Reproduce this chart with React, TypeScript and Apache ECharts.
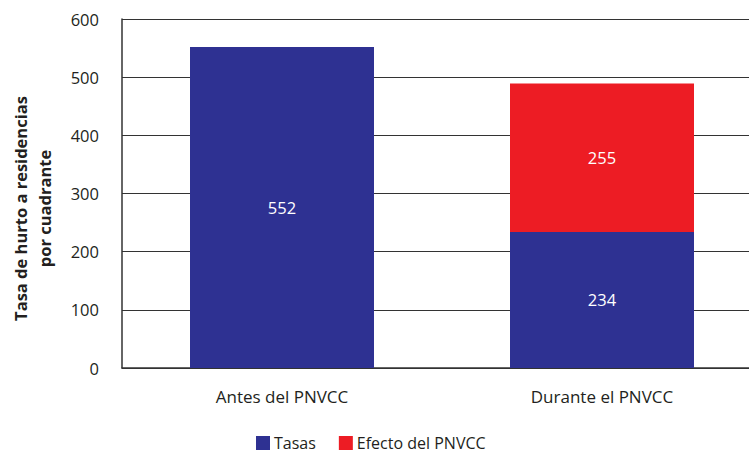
import React, { useEffect, useRef } from "react";
import * as echarts from "echarts";

const categories = ["Antes del PNVCC", "Durante el PNVCC"];
const tasas = [552, 234];
const efecto = [null, 255];
const yTicks = { min: 0, max: 600, interval: 100 };

export default function App() {
  const ref = useRef<HTMLDivElement>(null);
  useEffect(() => {
    const chart = echarts.init(ref.current!, null, { renderer: "svg" });
    const font = "'Open Sans', 'Noto Sans', sans-serif";
    chart.setOption({
      animation: false,
      textStyle: { fontFamily: font },
      grid: { left: 122, width: 640, top: 19, height: 349, outerBoundsMode: "none", containLabel: false },
      legend: {
        data: ["Tasas", "Efecto del PNVCC"],
        left: 251,
        top: 430,
        itemWidth: 14,
        itemHeight: 14,
        itemGap: 23,
        icon: "rect",
        textStyle: { fontSize: 16, lineHeight: 16, color: "#231f20", fontFamily: font, padding: [0, 0, 0, -1] },
      },
      xAxis: {
        type: "category",
        data: categories,
        axisLine: { show: true, lineStyle: { color: "#333", width: 1.5 } },
        axisTick: { show: false },
        axisLabel: { fontSize: 17, color: "#231f20", margin: 20, fontFamily: font },
      },
      yAxis: {
        type: "value",
        min: yTicks.min,
        max: yTicks.max,
        interval: yTicks.interval,
        name: "Tasa de hurto a residencias\npor cuadrante",
        nameLocation: "middle",
        nameGap: 66,
        nameTextStyle: {
          fontSize: 16.5,
          fontWeight: "bold",
          color: "#231f20",
          lineHeight: 24,
          fontFamily: font,
          padding: [0, 30, 0, 0],
        },
        axisLine: { show: true, lineStyle: { color: "#333", width: 1.5 } },
        axisTick: { show: false },
        axisLabel: { fontSize: 16.5, color: "#231f20", margin: 23, fontFamily: font },
        splitLine: { show: true, lineStyle: { color: "#333", width: 1.2 } },
      },
      series: [
        {
          name: "Tasas",
          type: "bar",
          stack: "total",
          data: tasas,
          barWidth: 184,
          itemStyle: { color: "#2e3192" },
          label: { show: true, position: "inside", color: "#fff", fontSize: 16.5, fontFamily: font },
        },
        {
          name: "Efecto del PNVCC",
          type: "bar",
          stack: "total",
          data: efecto,
          barWidth: 184,
          itemStyle: { color: "#ed1c24" },
          label: { show: true, position: "inside", color: "#fff", fontSize: 16.5, fontFamily: font },
        },
      ],
    });
    return () => chart.dispose();
  }, []);
  return <div ref={ref} style={{ width: 749, height: 453, position: "absolute", left: 0, top: 0 }} />;
}
